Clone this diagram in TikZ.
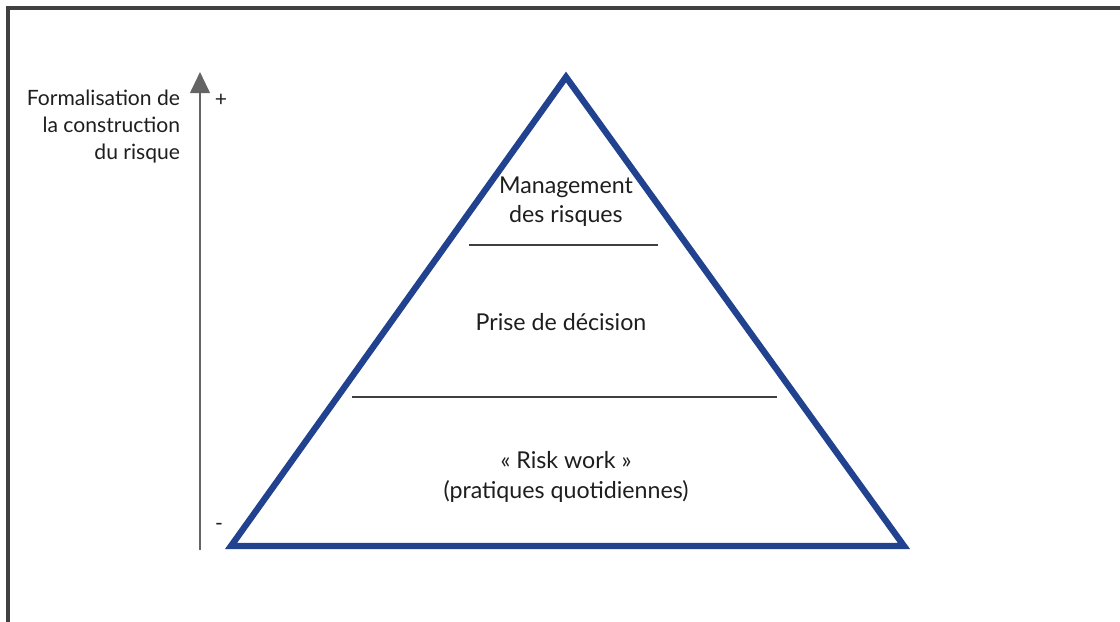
\documentclass[tikz,border=0pt]{standalone}
\usepackage{fontspec}
\setmainfont{Lato}
\usetikzlibrary{arrows.meta}

\definecolor{pyrblue}{RGB}{33,66,143}
\definecolor{axisgray}{RGB}{100,100,100}
\definecolor{framegray}{RGB}{64,64,64}
\definecolor{textgray}{RGB}{30,30,30}

\begin{document}
\begin{tikzpicture}[x=0.025cm, y=-0.025cm,
  level/.style={align=center, text=textgray, font=\fontsize{16.5}{20.8}\selectfont},
  axislabel/.style={align=right, text=textgray, font=\fontsize{15}{19.2}\selectfont},
  divider/.style={draw=framegray, line width=1.5pt},
  pyramid/.style={draw=pyrblue, line width=4.5pt, line join=miter}]

  \useasboundingbox (0,0) rectangle (1120,622);

  % Frame
  \draw[framegray, line width=2.5pt] (8,622) -- (8,8) -- (1120,8);

  % Vertical axis
  \coordinate (Abot) at (200,550);
  \coordinate (Atop) at (200,72);
  \draw[-{Triangle[length=15, width=14]}, axisgray, line width=1.5pt] (Abot) -- (Atop);
  \node[axislabel, anchor=north east] (Alabel) at (185,85) {Formalisation de\\la construction\\du risque};
  \node[axislabel] (Aplus) at (221,100) {+};
  \node[axislabel] (Aminus) at (219,527) {-};

  % Pyramid
  \coordinate (P1) at (566,77);
  \coordinate (P2) at (231,546);
  \coordinate (P3) at (904,546);
  \draw[pyramid] (P1) -- (P2) -- (P3) -- cycle;

  % Levels
  \coordinate (L1a) at (469,245);
  \coordinate (L1b) at (658,245);
  \coordinate (L2a) at (352,397);
  \coordinate (L2b) at (777,397);
  \draw[divider] (L1a) -- (L1b);
  \draw[divider] (L2a) -- (L2b);

  \node[level] (T1) at (566,202) {Management\\des risques};
  \node[level] (T2) at (561,322) {Prise de décision};
  \node[level] (T3) at (566,477) {« Risk work »\\(pratiques quotidiennes)};

\end{tikzpicture}
\end{document}
